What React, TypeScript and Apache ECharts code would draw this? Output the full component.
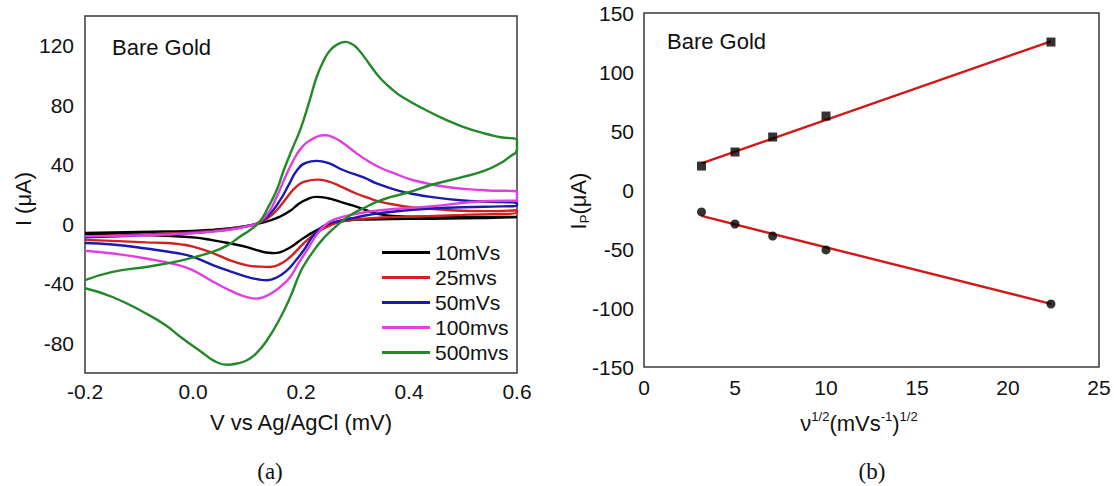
import React, { useEffect, useRef } from "react";
import * as echarts from "echarts";

// ---- Panel (a): cyclic voltammograms, [potential (V), current (µA)] ----
const SCAN_LABELS = ["10mVs", "25mvs", "50mVs", "100mvs", "500mvs"];

const cv10: number[][] = [
  [-0.2, -5.8], [-0.15, -5.5], [-0.1, -5.2], [-0.05, -4.9], [0.0, -4.5], [0.04, -3.6], [0.07, -2.6],
  [0.1, -1.2], [0.12, 0.3], [0.14, 2.2], [0.16, 4.9], [0.18, 9], [0.195, 13.5], [0.21, 16.6], [0.228, 18.4],
  [0.25, 17.5], [0.272, 15.2], [0.29, 13.2], [0.31, 10.8], [0.33, 8.2], [0.35, 6.5], [0.38, 5.4], [0.42, 5],
  [0.5, 4.9], [0.6, 4.9],
  [0.6, 4.5], [0.5, 4], [0.4, 3.6], [0.32, 3.2], [0.285, 2.5], [0.26, 0.6], [0.24, -2], [0.22, -5.8],
  [0.2, -10.5], [0.186, -14.2], [0.174, -16.8], [0.163, -18.6], [0.152, -19.4], [0.14, -19.2],
  [0.128, -18.4], [0.115, -17], [0.1, -15.4], [0.07, -13], [0.038, -10.8], [0.0, -8.8], [-0.05, -7.8],
  [-0.1, -7.1], [-0.15, -6.7], [-0.2, -6.5],
];

const cv25: number[][] = [
  [-0.2, -8.2], [-0.15, -7.6], [-0.1, -7], [-0.05, -6.3], [0.0, -5.5], [0.04, -4.3], [0.07, -3],
  [0.1, -1.2], [0.12, 0.6], [0.14, 4.5], [0.155, 9.4], [0.175, 18.5], [0.192, 25.5], [0.21, 29], [0.23, 30],
  [0.25, 28.8], [0.273, 25.5], [0.3, 21], [0.322, 18], [0.347, 15], [0.38, 12.8], [0.41, 11.2], [0.47, 9.6],
  [0.54, 8.8], [0.6, 9.4],
  [0.6, 8], [0.5, 6.3], [0.42, 5.2], [0.347, 4.5], [0.3, 3.2], [0.27, 1.5], [0.25, -1.5], [0.23, -5.5],
  [0.211, -10.8], [0.195, -16.5], [0.18, -22], [0.16, -27], [0.143, -28.7], [0.125, -28.5], [0.1, -27.6],
  [0.07, -24.5], [0.038, -19.5], [0.0, -15], [-0.023, -13.5], [-0.05, -12.6], [-0.087, -12.2],
  [-0.15, -11.2], [-0.2, -10.5],
];

const cv50: number[][] = [
  [-0.2, -8.8], [-0.15, -8.2], [-0.1, -7.5], [-0.05, -6.8], [0.0, -6], [0.04, -4.6], [0.07, -3.3],
  [0.1, -1.3], [0.12, 0.8], [0.14, 6], [0.161, 16], [0.178, 27], [0.192, 36], [0.21, 41.5], [0.229, 42.6],
  [0.25, 41.2], [0.279, 36.3], [0.316, 31.5], [0.34, 27.4], [0.377, 23], [0.41, 20.2], [0.44, 18.4],
  [0.5, 16], [0.54, 15.2], [0.6, 14],
  [0.6, 12.6], [0.54, 11.8], [0.44, 10.6], [0.347, 7.5], [0.3, 4.5], [0.265, 1.8], [0.245, -0.5],
  [0.232, -4], [0.22, -9], [0.205, -17.5], [0.19, -24.5], [0.174, -31], [0.155, -35.8], [0.137, -37.6],
  [0.12, -37], [0.1, -35.4], [0.07, -31.8], [0.038, -27.6], [0.0, -22], [-0.025, -19.7], [-0.087, -16.3],
  [-0.149, -13.6], [-0.2, -12.6],
];

const cv100: number[][] = [
  [-0.2, -8], [-0.15, -7.8], [-0.1, -7.5], [-0.05, -6.9], [0.0, -6], [0.04, -4.8], [0.07, -3.5],
  [0.1, -1.4], [0.12, 1], [0.14, 8], [0.155, 18.4], [0.17, 31], [0.186, 43], [0.2, 51], [0.217, 56.5],
  [0.245, 59.8], [0.262, 58], [0.279, 54.3], [0.3, 48.5], [0.322, 43], [0.347, 38], [0.371, 34.5],
  [0.408, 29.6], [0.47, 25], [0.54, 22.9], [0.6, 21.7],
  [0.6, 16], [0.54, 15.5], [0.439, 12], [0.347, 9.4], [0.3, 6.8], [0.262, 3.2], [0.245, -0.5],
  [0.228, -7.5], [0.211, -17.5], [0.195, -26.5], [0.18, -35.4], [0.165, -41], [0.149, -45.5],
  [0.132, -48.8], [0.118, -50], [0.1, -49], [0.081, -46.6], [0.06, -43], [0.038, -38.8], [0.0, -31],
  [-0.025, -27.6], [-0.087, -23], [-0.149, -19.7], [-0.2, -17.8],
];

const cv500: number[][] = [
  [-0.2, -37.6], [-0.149, -32], [-0.087, -28.7], [-0.025, -24.6], [0.036, -18.6], [0.065, -14],
  [0.086, -8.5], [0.105, -4], [0.123, 1.5], [0.14, 12], [0.155, 23], [0.168, 36.3], [0.183, 50],
  [0.199, 64], [0.215, 82], [0.229, 99], [0.242, 110], [0.254, 117], [0.268, 121], [0.282, 122.6],
  [0.295, 121], [0.305, 118], [0.318, 112], [0.334, 104], [0.35, 97], [0.371, 90], [0.39, 85],
  [0.43, 77], [0.47, 70], [0.5, 65.5], [0.54, 61], [0.57, 58.5], [0.6, 56.5],
  [0.6, 50.5], [0.585, 45], [0.569, 41], [0.54, 36], [0.5, 31.8], [0.439, 26.2], [0.4, 21.5],
  [0.365, 18.2], [0.34, 15], [0.316, 10.8], [0.3, 8], [0.285, 4.6], [0.27, 0.3], [0.254, -5],
  [0.238, -11], [0.223, -18], [0.21, -25], [0.199, -32], [0.18, -49], [0.16, -64], [0.137, -78],
  [0.118, -86.5], [0.1, -91.4], [0.08, -93.8], [0.063, -94.5], [0.04, -92], [0.02, -87], [-0.023, -75.8],
  [-0.05, -68], [-0.087, -60], [-0.149, -48.9], [-0.2, -43],
];

const CV_CURVES = [cv10, cv25, cv50, cv100, cv500];

// ---- Panel (b): peak current vs square root of scan rate ----
const SQRT_RATE = [3.16, 5, 7.07, 10, 22.36];
const IP_ANODIC = [20.3, 32.2, 44.9, 62.7, 125.4];
const IP_CATHODIC = [-18.6, -28.8, -39, -50.8, -96.6];
const FIT_X = [3.16, 22.36];
const FIT_ANODIC = [22.6, 126];
const FIT_CATHODIC = [-22, -96.5];

const COLORS = ["#000000", "#d42020", "#1a1ab0", "#e03ee0", "#23882a"];
const FONT = "Liberation Sans, Arial, sans-serif";
const SERIF = "Liberation Serif, Times New Roman, serif";
const TXT = "#111111";

export default function App() {
  const ref = useRef<HTMLDivElement>(null);

  useEffect(() => {
    if (!ref.current) return;
    const chart = echarts.init(ref.current, undefined, { renderer: "svg" });

    const cvSeries = CV_CURVES.map((d, i) => ({
      type: "line",
      name: SCAN_LABELS[i],
      xAxisIndex: 0,
      yAxisIndex: 0,
      data: d,
      symbol: "none",
      showSymbol: false,
      smooth: 0.5,
      lineStyle: { width: 2.4, color: COLORS[i] },
      itemStyle: { color: COLORS[i] },
      z: 2 + i,
    }));

    const zip = (xs: number[], ys: number[]) => xs.map((x, i) => [x, ys[i]]);

    const option: any = {
      animation: false,
      textStyle: { fontFamily: FONT },
      grid: [
        { left: 85, top: 16, width: 432, height: 357, show: true, borderColor: "#3a3a3a", borderWidth: 1.5, backgroundColor: "transparent" },
        { left: 644, top: 13, width: 455, height: 354, show: true, borderColor: "#3a3a3a", borderWidth: 1.5, backgroundColor: "transparent" },
      ],
      xAxis: [
        {
          type: "value", gridIndex: 0, min: -0.2, max: 0.6, interval: 0.2,
          axisLine: { show: false }, axisTick: { show: false }, splitLine: { show: false },
          axisLabel: {
            fontSize: 21, color: TXT, fontFamily: FONT, margin: 8,
            formatter: (v: number) => (Math.abs(v) < 1e-9 ? 0 : v).toFixed(1),
          },
        },
        {
          type: "value", gridIndex: 1, min: 0, max: 25, interval: 5,
          axisLine: { show: false }, axisTick: { show: false }, splitLine: { show: false },
          axisLabel: { fontSize: 21, color: TXT, fontFamily: FONT, margin: 10 },
        },
      ],
      yAxis: [
        {
          type: "value", gridIndex: 0, min: -100, max: 140, interval: 20,
          axisLine: { show: false }, axisTick: { show: false }, splitLine: { show: false },
          axisLabel: {
            fontSize: 21, color: TXT, fontFamily: FONT, margin: 11,
            formatter: (v: number) => (Math.round(v) % 40 === 0 ? String(Math.round(v)) : ""),
          },
        },
        {
          type: "value", gridIndex: 1, min: -150, max: 150, interval: 50,
          axisLine: { show: false }, axisTick: { show: false }, splitLine: { show: false },
          axisLabel: { fontSize: 21, color: TXT, fontFamily: FONT, margin: 10 },
        },
      ],
      legend: {
        data: SCAN_LABELS,
        orient: "vertical",
        left: 382,
        top: 242,
        padding: 0,
        itemWidth: 48,
        itemHeight: 3,
        itemGap: 4,
        icon: "rect",
        selectedMode: false,
        textStyle: { fontSize: 21, lineHeight: 21, color: TXT, fontFamily: FONT },
      },
      series: [
        ...cvSeries,
        {
          type: "line", name: "fitA", xAxisIndex: 1, yAxisIndex: 1,
          data: zip(FIT_X, FIT_ANODIC), symbol: "none",
          lineStyle: { width: 2.4, color: "#d01818" }, z: 2,
        },
        {
          type: "line", name: "fitC", xAxisIndex: 1, yAxisIndex: 1,
          data: zip(FIT_X, FIT_CATHODIC), symbol: "none",
          lineStyle: { width: 2.4, color: "#d01818" }, z: 2,
        },
        {
          type: "scatter", name: "Ipa", xAxisIndex: 1, yAxisIndex: 1,
          data: zip(SQRT_RATE, IP_ANODIC), symbol: "rect", symbolSize: 9,
          itemStyle: { color: "#000000" }, z: 3,
        },
        {
          type: "scatter", name: "Ipc", xAxisIndex: 1, yAxisIndex: 1,
          data: zip(SQRT_RATE, IP_CATHODIC), symbol: "circle", symbolSize: 9,
          itemStyle: { color: "#000000" }, z: 3,
        },
      ],
      graphic: [
        { type: "text", x: 112, y: 47, style: { text: "Bare Gold", fontSize: 22, fontFamily: FONT, fill: TXT, verticalAlign: "middle" } },
        { type: "text", x: 667, y: 41, style: { text: "Bare Gold", fontSize: 22, fontFamily: FONT, fill: TXT, verticalAlign: "middle" } },
        { type: "text", x: 301, y: 422, style: { text: "V vs Ag/AgCl (mV)", fontSize: 22, fontFamily: FONT, fill: TXT, align: "center", verticalAlign: "middle" } },
        {
          type: "text", x: 859, y: 423,
          style: {
            text: "{n|ν}{s|1/2}{n|(mVs}{s|-1}{n|)}{s|1/2}",
            align: "center", verticalAlign: "middle", fill: TXT, fontFamily: FONT,
            rich: {
              n: { fontSize: 22, lineHeight: 26, fontFamily: FONT, fill: TXT },
              s: { fontSize: 13, lineHeight: 26, fontFamily: FONT, fill: TXT, verticalAlign: "top", padding: [0, 0, 10, 0] },
            },
          },
        },
        { type: "text", x: 23, y: 199, rotation: Math.PI / 2, style: { text: "I (μA)", fontSize: 22, fontFamily: FONT, fill: TXT, align: "center", verticalAlign: "middle" } },
        {
          type: "text", x: 578, y: 201, rotation: Math.PI / 2,
          style: {
            text: "{n|I}{s|P}{n|(μA)}",
            align: "center", verticalAlign: "middle", fill: TXT, fontFamily: FONT,
            rich: {
              n: { fontSize: 22, lineHeight: 26, fontFamily: FONT, fill: TXT },
              s: { fontSize: 13, lineHeight: 26, fontFamily: FONT, fill: TXT, verticalAlign: "bottom", padding: [8, 0, 0, 0] },
            },
          },
        },
        { type: "text", x: 270, y: 471, style: { text: "(a)", fontSize: 23, fontFamily: SERIF, fill: TXT, align: "center", verticalAlign: "middle" } },
        { type: "text", x: 872, y: 471, style: { text: "(b)", fontSize: 23, fontFamily: SERIF, fill: TXT, align: "center", verticalAlign: "middle" } },
      ],
    };

    chart.setOption(option);
    return () => chart.dispose();
  }, []);

  return (
    <div
      ref={ref}
      style={{ position: "absolute", left: 0, top: 0, width: 1114, height: 486, background: "#ffffff" }}
    />
  );
}
